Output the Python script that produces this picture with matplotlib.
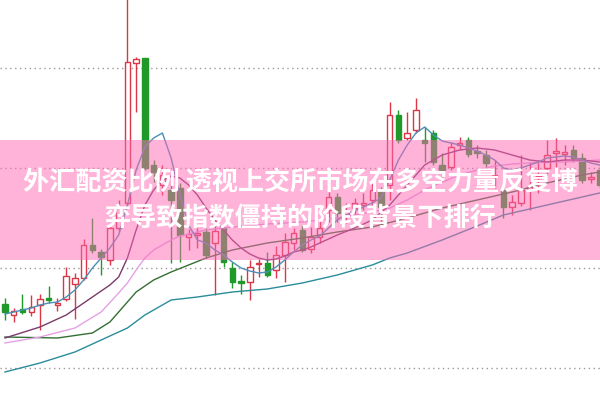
import numpy as np
import matplotlib
matplotlib.use("Agg")
from matplotlib import pyplot as plt

plt.rcParams['font.family'] = ['Noto Sans CJK SC', 'DejaVu Sans']

# daily candles (price)
opens = [3064, 3053, 3059, 3056, 3063, 3070, 3063, 3069, 3084, 3090,
         3123, 3116, 3108, 3140, 3165, 3305, 3310, 3203, 3183, 3178,
         3180, 3131, 3133, 3136, 3125, 3140, 3100, 3087, 3086, 3104,
         3105, 3098, 3113, 3125, 3138, 3119, 3131, 3158, 3171, 3153,
         3160, 3163, 3168, 3178, 3183, 3253, 3230, 3238, 3228, 3235,
         3203, 3201, 3223, 3228, 3217, 3213, 3192, 3178, 3161, 3165,
         3178, 3190, 3200, 3215, 3214, 3218, 3210, 3189, 3198]
highs = [3070, 3060, 3074, 3073, 3074, 3082, 3070, 3101, 3095, 3129,
         3150, 3119, 3143, 3168, 3373, 3311, 3310, 3208, 3203, 3185,
         3185, 3139, 3140, 3140, 3144, 3143, 3106, 3093, 3108, 3109,
         3116, 3122, 3135, 3140, 3143, 3141, 3148, 3176, 3175, 3165,
         3170, 3175, 3185, 3181, 3266, 3258, 3256, 3270, 3241, 3238,
         3215, 3226, 3231, 3231, 3223, 3218, 3208, 3186, 3173, 3213,
         3206, 3208, 3228, 3230, 3223, 3223, 3215, 3196, 3203]
lows = [3048, 3046, 3054, 3052, 3038, 3065, 3057, 3067, 3049, 3088,
        3115, 3093, 3103, 3136, 3163, 3256, 3198, 3186, 3173, 3105,
        3106, 3118, 3120, 3110, 3073, 3101, 3080, 3074, 3068, 3091,
        3091, 3090, 3086, 3118, 3116, 3115, 3125, 3146, 3146, 3145,
        3153, 3158, 3163, 3142, 3168, 3225, 3228, 3235, 3206, 3203,
        3190, 3198, 3218, 3211, 3210, 3201, 3180, 3150, 3153, 3162,
        3158, 3175, 3193, 3191, 3203, 3206, 3185, 3185, 3180]
closes = [3056, 3057, 3056, 3061, 3069, 3068, 3065, 3092, 3090, 3123,
          3118, 3111, 3140, 3161, 3306, 3309, 3200, 3196, 3193, 3168,
          3133, 3134, 3135, 3113, 3137, 3106, 3086, 3085, 3101, 3105,
          3093, 3113, 3126, 3135, 3118, 3131, 3140, 3171, 3155, 3157,
          3165, 3165, 3178, 3161, 3253, 3228, 3235, 3258, 3225, 3206,
          3198, 3221, 3225, 3214, 3215, 3205, 3193, 3161, 3166, 3178,
          3181, 3192, 3213, 3217, 3216, 3210, 3188, 3191, 3183]

# moving average lines, (candle index, value)
ma5_idx = list(range(69))
ma5_val = [3054, 3056, 3058, 3060, 3063, 3065, 3066, 3071, 3078, 3088,
           3100, 3110, 3120, 3133, 3163, 3198, 3221, 3230, 3235, 3210,
           3173, 3143, 3128, 3125, 3118, 3113, 3106, 3100, 3097, 3095,
           3096, 3101, 3108, 3116, 3123, 3128, 3132, 3140, 3148, 3153,
           3157, 3161, 3165, 3170, 3188, 3208, 3223, 3235, 3241, 3233,
           3227, 3225, 3223, 3220, 3217, 3213, 3208, 3200, 3198, 3200,
           3203, 3206, 3210, 3211, 3212, 3211, 3208, 3205, 3203]
ma10_idx = [0, 4, 7, 9, 12, 13, 14, 15, 16, 17, 18, 19, 20, 21, 22, 23, 24,
            25, 26, 27, 28, 29, 30, 31, 32, 33, 34, 35, 36, 38, 40, 42, 44,
            46, 48, 50, 52, 54, 56, 58, 60, 62, 64, 66, 68]
ma10_val = [3030, 3041, 3053, 3065, 3083, 3091, 3110, 3138, 3163, 3178,
            3188, 3192, 3190, 3183, 3173, 3160, 3148, 3138, 3128, 3120,
            3114, 3110, 3108, 3109, 3112, 3116, 3118, 3121, 3125, 3133,
            3140, 3148, 3163, 3183, 3203, 3213, 3218, 3220, 3218, 3213,
            3208, 3206, 3208, 3208, 3206]
ma20_idx = [0, 4, 8, 11, 13, 14, 15, 16, 17, 19, 20, 23, 26, 30, 34, 38,
            42, 44, 46, 48, 50, 52, 54, 56, 58, 60, 62, 64, 66, 68]
ma20_val = [3025, 3031, 3040, 3056, 3075, 3085, 3098, 3110, 3118, 3128,
            3132, 3138, 3141, 3144, 3146, 3150, 3156, 3160, 3168, 3178,
            3186, 3193, 3198, 3202, 3204, 3205, 3206, 3206, 3207, 3208]
ma30_idx = [0, 6, 10, 12, 13, 14, 15, 17, 19, 21, 23, 26, 30, 34, 38, 42,
            46, 50, 54, 58, 62, 66, 68]
ma30_val = [3031, 3030, 3035, 3046, 3056, 3066, 3076, 3088, 3096, 3103,
            3110, 3118, 3125, 3130, 3136, 3141, 3150, 3160, 3168, 3176,
            3185, 3193, 3196]
ma60_idx = [0, 4, 8, 11, 14, 16, 19, 22, 26, 30, 34, 38, 42, 44, 46, 50,
            54, 57, 62, 68]
ma60_val = [2996, 3005, 3016, 3028, 3040, 3053, 3068, 3071, 3076, 3079,
            3085, 3093, 3103, 3110, 3115, 3128, 3142, 3153, 3163, 3175]

grid_levels = [3000, 3100, 3200, 3300]
band = (3108, 3228)
title_lines = ["外汇配资比例 透视上交所市场在多空力量反复博",
               "弈导致指数僵持的阶段背景下排行"]

red = "#dc3545"
green = "#1f9a2a"

fig = plt.figure(figsize=(6, 4.01), dpi=100)
ax = fig.add_axes([0, 0, 1, 1])
ax.set_xlim(-0.571, 68.05)
ax.set_ylim(2967, 3368)
ax.axis("off")

for lv in grid_levels:
    ax.axhline(lv, color="#9a9a9a", lw=1, ls=(0, (1, 2.5)), zorder=1)

x = np.arange(len(opens))
o = np.array(opens)
c = np.array(closes)
up = c >= o
cols = np.where(up, red, green)

ax.vlines(x, lows, highs, colors=cols, lw=1, zorder=2)
body_h = np.maximum(np.abs(c - o), 1.2)
ax.bar(x, body_h, bottom=np.minimum(o, c), width=0.62,
       color=np.where(up, "white", green), edgecolor=cols, lw=1, zorder=3)

ax.plot(ma60_idx, ma60_val, color="#2a8c9a", lw=1, zorder=4)
ax.plot(ma30_idx, ma30_val, color="#336f33", lw=1, zorder=4)
ax.plot(ma20_idx, ma20_val, color="#e3a2e6", lw=1, zorder=4)
ax.plot(ma10_idx, ma10_val, color="#7a3a6a", lw=1, zorder=4)
ax.plot(ma5_idx, ma5_val, color="#4a8fb5", lw=1, zorder=4)

# pink banner with title
ax.axhspan(band[0], band[1], color="#ff69b4", alpha=0.5, lw=0, zorder=5)
ax.text(0.5, 1 - 183 / 401, title_lines[0], transform=ax.transAxes,
        ha="center", va="center", color="white", fontsize=18.8,
        fontweight="bold", zorder=6)
ax.text(0.5, 1 - 219 / 401, title_lines[1], transform=ax.transAxes,
        ha="center", va="center", color="white", fontsize=18.8,
        fontweight="bold", zorder=6)

plt.savefig("out.png", dpi=100)
